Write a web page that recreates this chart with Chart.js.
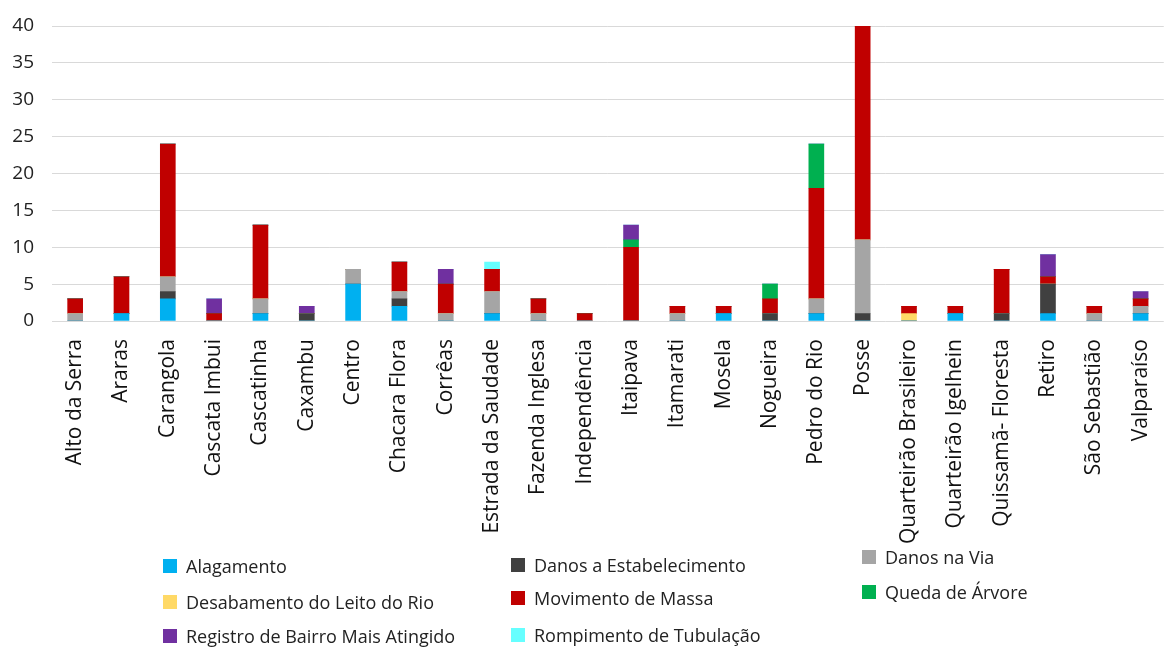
<!DOCTYPE html>
<html>
<head>
<meta charset="utf-8">
<script src="https://cdn.jsdelivr.net/npm/chart.js@4/dist/chart.umd.min.js"></script>
<style>
  html, body { margin: 0; padding: 0; background: #fff; }
  #wrap { position: relative; width: 1176px; height: 654px; }
  #legend { position: absolute; left: 0; top: 0; width: 1176px; height: 654px; pointer-events: none;
    font-family: "Liberation Sans Narrow", "Open Sans", sans-serif; font-size: 18px; color: #222; }
  .li { position: absolute; display: flex; align-items: center; white-space: nowrap; }
  .sw { width: 14px; height: 14px; margin-right: 9px; flex: none; }
</style>
</head>
<body>
<div id="wrap">
  <canvas id="c" width="1176" height="654"></canvas>
  <div id="legend"></div>
</div>
<script>
const categories = ["Alto da Serra","Araras","Carangola","Cascata Imbui","Cascatinha","Caxambu","Centro","Chacara Flora","Corrêas","Estrada da Saudade","Fazenda Inglesa","Independência","Itaipava","Itamarati","Mosela","Nogueira","Pedro do Rio","Posse","Quarteirão Brasileiro","Quarteirão Igelhein","Quissamã- Floresta","Retiro","São Sebastião","Valparaíso"];

const alagamento            = [0,1,3,0,1,0,5,2,0,1,0,0,0,0,1,0,1,0,0,1,0,1,0,1];
const danosEstabelecimento  = [0,0,1,0,0,1,0,1,0,0,0,0,0,0,0,1,0,1,0,0,1,4,0,0];
const danosVia              = [1,0,2,0,2,0,2,1,1,3,1,0,0,1,0,0,2,10,0,0,0,0,1,1];
const desabamentoLeito      = [0,0,0,0,0,0,0,0,0,0,0,0,0,0,0,0,0,0,1,0,0,0,0,0];
const movimentoMassa        = [2,5,18,1,10,0,0,4,4,3,2,1,10,1,1,2,15,29,1,1,6,1,1,1];
const quedaArvore           = [0,0,0,0,0,0,0,0,0,0,0,0,1,0,0,2,6,0,0,0,0,0,0,0];
const registroBairro        = [0,0,0,2,0,1,0,0,2,0,0,0,2,0,0,0,0,0,0,0,0,3,0,1];
const rompimentoTubulacao   = [0,0,0,0,0,0,0,0,0,1,0,0,0,0,0,0,0,0,0,0,0,0,0,0];

const seriesNames = ["Alagamento","Danos a Estabelecimento","Danos na Via","Desabamento do Leito do Rio","Movimento de Massa","Queda de Árvore","Registro de Bairro Mais Atingido","Rompimento de Tubulação"];
const yTicks = [0,5,10,15,20,25,30,35,40];

const seriesValues = [alagamento, danosEstabelecimento, danosVia, desabamentoLeito, movimentoMassa, quedaArvore, registroBairro, rompimentoTubulacao];
const colors = ["#00B0F0","#404040","#A5A5A5","#FFD966","#C00000","#00B050","#7030A0","#66FFFF"];

// legend layout (position only)
const legendPos = [
  [163,566],[511,565],[862,557],
  [163,602],[511,598],[862,592],
  [163,636],[511,635]
];

const datasets = seriesNames.map((n,i)=>({
  label: n, data: seriesValues[i], backgroundColor: colors[i], borderWidth: 0,
  barThickness: 15, stack: "s"
}));

const textFont = "'Open Sans', sans-serif";
new Chart(document.getElementById("c"), {
  type: "bar",
  data: { labels: categories, datasets },
  options: {
    responsive: false, animation: false,
    layout: { padding: { top: 26, right: 9, left: 0, bottom: 0 } },
    plugins: { legend: { display: false }, tooltip: { enabled: false } },
    scales: {
      x: {
        stacked: true,
        grid: { display: false },
        border: { display: false },
        ticks: { minRotation: 90, maxRotation: 90, autoSkip: false, color: "#111",
          font: { family: textFont, size: 21 }, padding: 10 },
        afterFit: s => { s.height = 333; s.paddingTop = 0; }
      },
      y: {
        stacked: true, min: 0, max: 40,
        afterBuildTicks: s => { s.ticks = yTicks.map(v=>({value:v})); },
        grid: { color: "#D9D9D9", lineWidth: 1, drawTicks: false },
        border: { display: false },
        ticks: { color: "#222", font: { family: textFont, size: 19 }, padding: 18 },
        afterFit: s => { s.width = 52; s.paddingTop = 0; }
      }
    }
  }
});

const lg = document.getElementById("legend");
seriesNames.forEach((n,i)=>{
  const d = document.createElement("div");
  d.className = "li";
  d.style.left = legendPos[i][0] + "px";
  d.style.top = (legendPos[i][1] - 12) + "px";
  d.style.height = "24px";
  d.innerHTML = '<span class="sw" style="background:'+colors[i]+'"></span><span>'+n+'</span>';
  lg.appendChild(d);
});
</script>
</body>
</html>
